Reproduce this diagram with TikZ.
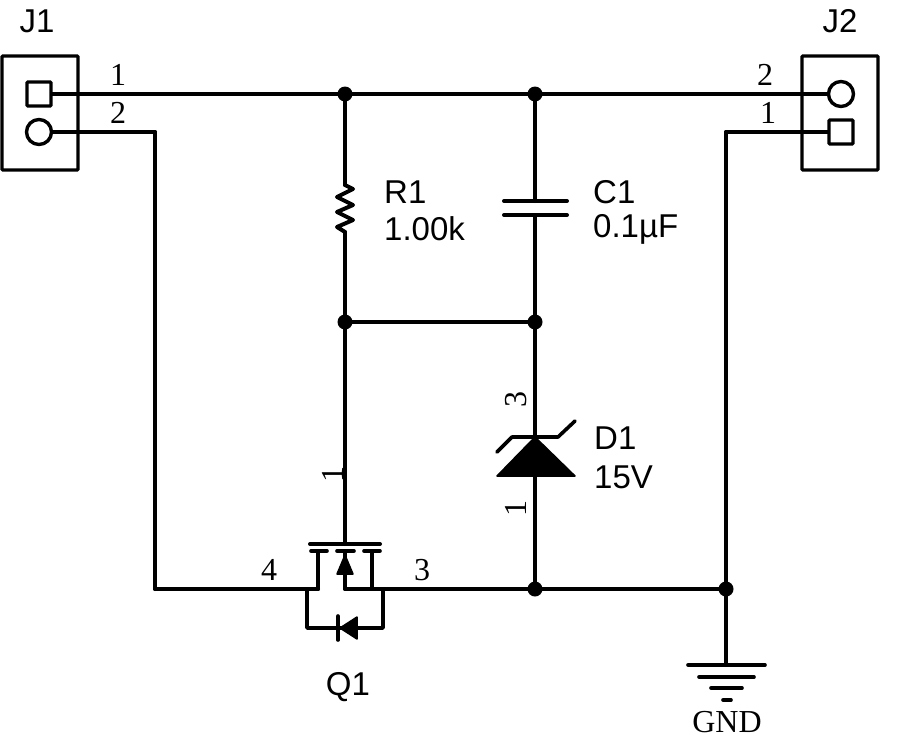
\documentclass[tikz,border=0pt]{standalone}
\usepackage{fontspec}
\setmainfont{Liberation Serif}
\newfontfamily\refdesfont{Liberation Sans}
\tikzset{
  junction/.style={circle,fill=black,inner sep=0pt,minimum size=15pt},
  connbox/.style={rectangle,draw,line width=3.4pt,rounded corners=1pt,minimum width=76pt,minimum height=114pt},
  squarepin/.style={rectangle,draw,line width=3.4pt,rounded corners=1pt,inner sep=0pt,minimum size=24pt},
  roundpin/.style={circle,draw,line width=3.4pt,inner sep=0pt,minimum size=25pt},
  pinnum/.style={inner sep=0pt,font=\fontsize{32}{34}\selectfont},
  refdes/.style={inner sep=0pt,font=\refdesfont\fontsize{33}{35}\selectfont},
  sym/.style={line width=3.6pt,line cap=round,line join=round},
  solid tip/.style={fill=black,draw=black,line width=1.5pt,line join=round}
}
\begin{document}
\begin{tikzpicture}[x=1pt,y=-1pt]
  \useasboundingbox (0,0) rectangle (900,750);

  % connectors
  \node[connbox] (J1box) at (40,113) {};
  \node[connbox] (J2box) at (840,113) {};
  \node[squarepin] (J1a) at (39,94) {};
  \node[roundpin]  (J1b) at (39,132) {};
  \node[roundpin]  (J2a) at (841,94) {};
  \node[squarepin] (J2b) at (841,132) {};

  % junctions
  \begin{scope}[every node/.style={junction}]
    \node (n1) at (345,94) {};
    \node (n2) at (535,94) {};
    \node (n3) at (345,322) {};
    \node (n4) at (535,322) {};
    \node (n5) at (535,589) {};
    \node (n6) at (726,589) {};
  \end{scope}

  % free ends and corners
  \coordinate (c1) at (155,132);
  \coordinate (c2) at (155,589);
  \coordinate (c3) at (726,132);
  \coordinate (rtop) at (345,185);
  \coordinate (rbot) at (345,232);
  \coordinate (captop) at (535,201);
  \coordinate (capbot) at (535,215);
  \coordinate (dtop) at (535,437);
  \coordinate (dbot) at (535,475);
  \coordinate (gate) at (345,544);
  \coordinate (src) at (318,589);
  \coordinate (drn) at (345,589);
  \coordinate (gnd) at (726,665);

  % wires
  \begin{scope}[every edge/.style={draw,line width=4pt,line cap=round}]
    \path (J1a) edge (n1);
    \path (n1)  edge (n2);
    \path (n2)  edge (J2a);
    \path (J1b) edge (c1);
    \path (c1)  edge (c2);
    \path (c2)  edge (src);
    \path (J2b) edge (c3);
    \path (c3)  edge (n6);
    \path (n6)  edge (gnd);
    \path (n1)  edge (rtop);
    \path (rbot) edge (n3);
    \path (n2)  edge (captop);
    \path (capbot) edge (n4);
    \path (n3)  edge (n4);
    \path (n4)  edge (dtop);
    \path (dbot) edge (n5);
    \path (n3)  edge (gate);
    \path (drn) edge (n5);
    \path (n5)  edge (n6);
  \end{scope}

  % R1
  \draw[sym,line width=4pt] (rtop) -- (353,189) -- (337,197) -- (353,205) -- (337,212) -- (353,220) -- (337,227) -- (rbot);

  % C1
  \draw[sym,line width=4pt] (504,201) -- (567,201);
  \draw[sym,line width=4pt] (504,215) -- (567,215);

  % D1
  \filldraw[solid tip] (dtop) -- (575,476) -- (497,476) -- cycle;
  \draw[sym] (497,452) -- (512,437) -- (558,437) -- (575,421);

  % Q1
  \draw[sym,line width=4pt] (310,544) -- (380,544);
  \draw[sym] (311,551) -- (327,551);
  \draw[sym] (337,551) -- (354,551);
  \draw[sym] (364,551) -- (380,551);
  \draw[sym] (318,551) -- (src);
  \draw[sym] (345,551) -- (drn);
  \draw[sym] (372,551) -- (372,589);
  \filldraw[solid tip] (345,555) -- (353,574) -- (337,574) -- cycle;
  \draw[sym] (307,589) -- (307,628) -- (383,628) -- (383,589);
  \draw[sym] (307,589) -- (src);
  \filldraw[solid tip] (340,628) -- (357,617) -- (357,639) -- cycle;
  \draw[sym] (338,616) -- (338,640);

  % GND
  \draw[sym] (688,665) -- (765,665);
  \draw[sym] (699,677) -- (754,677);
  \draw[sym] (711,688) -- (742,688);
  \draw[sym] (723,700) -- (731,700);

  % pin numbers
  \begin{scope}[every node/.style={pinnum}]
    \node (p1) at (118,75) {1};
    \node (p2) at (118,113) {2};
    \node (p3) at (765,75) {2};
    \node (p4) at (768,113) {1};
    \node (p5) at (269,570) {4};
    \node (p6) at (422,570) {3};
    \node[rotate=90] (p7) at (333,474) {1};
    \node[rotate=90] (p8) at (516,399) {3};
    \node[rotate=90] (p9) at (516,508) {1};
    \node (gndlabel) at (727,722) {GND};
  \end{scope}

  % part labels
  \begin{scope}[every node/.style={refdes}]
    \node (J1label) at (37,21) {J1};
    \node (J2label) at (840,21) {J2};
    \node[anchor=west] (R1name) at (384,192) {R1};
    \node[anchor=west] (R1val)  at (384,229) {1.00k};
    \node[anchor=west] (C1name) at (593,192) {C1};
    \node[anchor=west] (C1val)  at (593,229) {0.1µF};
    \node[anchor=west] (D1name) at (594,438) {D1};
    \node[anchor=west] (D1val)  at (594,477) {15V};
    \node (Q1name) at (348,687) {Q1};
  \end{scope}

\end{tikzpicture}
\end{document}
